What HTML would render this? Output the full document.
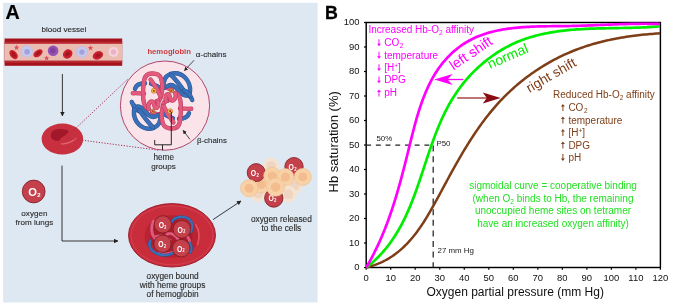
<!DOCTYPE html>
<html><head><meta charset="utf-8"><style>
html,body{margin:0;padding:0;background:#fff;width:676px;height:306px;overflow:hidden}
svg{display:block;will-change:transform}
text{font-family:"Liberation Sans", sans-serif}
.lbl{fill:#2a2a2a;stroke:#2a2a2a;stroke-width:0.12px}
</style></head><body>
<svg width="676" height="306" viewBox="0 0 676 306">
<defs>
<marker id="ah" viewBox="0 0 10 10" refX="9" refY="5" markerWidth="5" markerHeight="5" orient="auto"><path d="M0,0 L10,5 L0,10 z" fill="#222"/></marker>
</defs>
<!-- ===== Panel A ===== -->
<rect x="3.1" y="2.85" width="314.5" height="299.6" fill="#dee8f2"/>
<text x="5.4" y="19.3" font-size="19.7" font-weight="bold" fill="#000" stroke="#000" stroke-width="0.2">A</text>
<text x="41.4" y="32" font-size="8.1" class="lbl">blood vessel</text>

<!-- blood vessel -->
<rect x="4.6" y="38.5" width="117.6" height="27.3" fill="#a6121b"/>
<rect x="4.6" y="41.6" width="117.6" height="2.3" fill="#bb2a31"/>
<rect x="4.6" y="60.5" width="117.6" height="2.2" fill="#bb2a31"/>
<rect x="4.6" y="43.8" width="117.6" height="16.8" fill="#ebbcb1"/>
<!-- cells -->
<g>
<ellipse cx="13.6" cy="54.6" rx="3.4" ry="5.2" transform="rotate(-40 13.6 54.6)" fill="#c8202e"/>
<ellipse cx="13.6" cy="54.6" rx="1.6" ry="3" transform="rotate(-40 13.6 54.6)" fill="#a8141f"/>
<path d="M16.5,44.8 l0.8,1.8 1.9,0.2 -1.4,1.2 0.5,1.9 -1.8,-1 -1.6,1 0.4,-1.9 -1.4,-1.3 1.9,-0.1z" fill="#e0505a"/>
<circle cx="26.9" cy="51.5" r="5.8" fill="#c6c8f0" stroke="#b4b6e4" stroke-width="0.5"/>
<circle cx="27.1" cy="51.7" r="2.8" fill="#a0a2da"/>
<ellipse cx="38" cy="53.3" rx="3.2" ry="5.2" transform="rotate(55 38 53.3)" fill="#c8202e"/>
<ellipse cx="38" cy="53.3" rx="1.5" ry="3" transform="rotate(55 38 53.3)" fill="#a8141f"/>
<path d="M46.6,55.4 l0.8,1.8 1.9,0.2 -1.4,1.2 0.5,1.9 -1.8,-1 -1.6,1 0.4,-1.9 -1.4,-1.3 1.9,-0.1z" fill="#e0505a"/>
<circle cx="53.1" cy="50.7" r="5.3" fill="#9452b4"/>
<circle cx="52.8" cy="50.4" r="2.8" fill="#84409e"/>
<ellipse cx="67.7" cy="54" rx="4.4" ry="5" transform="rotate(50 67.7 54)" fill="#c8202e"/>
<ellipse cx="67.7" cy="54" rx="2" ry="2.8" transform="rotate(50 67.7 54)" fill="#a8141f"/>
<circle cx="81.8" cy="51.9" r="5.6" fill="#c6c8f0" stroke="#b4b6e4" stroke-width="0.5"/>
<circle cx="82" cy="52.1" r="2.7" fill="#a0a2da"/>
<path d="M90.5,45.2 l0.8,1.8 1.9,0.2 -1.4,1.2 0.5,1.9 -1.8,-1 -1.6,1 0.4,-1.9 -1.4,-1.3 1.9,-0.1z" fill="#e0505a"/>
<ellipse cx="97.9" cy="55.4" rx="4" ry="5.4" transform="rotate(65 97.9 55.4)" fill="#c8202e"/>
<ellipse cx="97.9" cy="55.4" rx="1.8" ry="3" transform="rotate(65 97.9 55.4)" fill="#a8141f"/>
<circle cx="113.5" cy="51.9" r="5" fill="#f6d0dc"/>
<circle cx="113.5" cy="51.9" r="2.6" fill="#eab0c4"/>
</g>

<!-- arrow down from vessel -->
<line x1="62.4" y1="74" x2="62.4" y2="116" stroke="#222" stroke-width="0.9" marker-end="url(#ah)"/>

<!-- dotted zoom lines -->


<!-- small RBC -->
<ellipse cx="62.4" cy="139" rx="20.8" ry="15.5" fill="#c9303f"/>
<path d="M51,134 C52,129 59,128 67,130 C70,131 68,134 64,136 C60,138 60,141 58,141 C53,141 50,138 51,134z" fill="#a0182a"/>
<path d="M61.5,143.8 C66,144.2 72,142 76,138.6" stroke="#e46674" stroke-width="1.3" fill="none" stroke-linecap="round"/>
<line x1="65.5" y1="138" x2="128.5" y2="78.5" stroke="#a43050" stroke-width="1" stroke-dasharray="1.2 1.6"/>
<line x1="65.5" y1="138" x2="158.5" y2="150.2" stroke="#a43050" stroke-width="1" stroke-dasharray="1.2 1.6"/>

<!-- zoom circle -->
<circle cx="165" cy="105.6" r="44.6" fill="#fae4ea" stroke="#a8345a" stroke-width="0.9"/>

<!-- protein placeholder -->
<g fill="none" stroke-linecap="round" stroke-linejoin="round"><g><path d="M132.8,93.2 C136,93 140,93.2 144,93.6" stroke="#b8365a" stroke-width="4.4"/><path d="M132.8,93.2 C136,93 140,93.2 144,93.6" stroke="#e25a7c" stroke-width="3.5"/><path d="M162.5,87 C166,87.5 169.5,88.5 172,89.5" stroke="#b8365a" stroke-width="4.4"/><path d="M162.5,87 C166,87.5 169.5,88.5 172,89.5" stroke="#e25a7c" stroke-width="3.5"/></g><g transform="rotate(180 162 101)"><path d="M132.8,93.2 C136,93 140,93.2 144,93.6" stroke="#b8365a" stroke-width="4.4"/><path d="M132.8,93.2 C136,93 140,93.2 144,93.6" stroke="#e25a7c" stroke-width="3.5"/><path d="M162.5,87 C166,87.5 169.5,88.5 172,89.5" stroke="#b8365a" stroke-width="4.4"/><path d="M162.5,87 C166,87.5 169.5,88.5 172,89.5" stroke="#e25a7c" stroke-width="3.5"/></g><g><path d="M135,88.8 C136,85.2 139.5,83.2 145,83.2" stroke="#24508e" stroke-width="4.4"/><path d="M135,88.8 C136,85.2 139.5,83.2 145,83.2" stroke="#3a70b8" stroke-width="3.5"/><path d="M151,83.6 C154,84.5 158,86.5 161.5,89" stroke="#24508e" stroke-width="4.4"/><path d="M151,83.6 C154,84.5 158,86.5 161.5,89" stroke="#3a70b8" stroke-width="3.5"/></g><g transform="rotate(180 162 101)"><path d="M135,88.8 C136,85.2 139.5,83.2 145,83.2" stroke="#24508e" stroke-width="4.4"/><path d="M135,88.8 C136,85.2 139.5,83.2 145,83.2" stroke="#3a70b8" stroke-width="3.5"/><path d="M151,83.6 C154,84.5 158,86.5 161.5,89" stroke="#24508e" stroke-width="4.4"/><path d="M151,83.6 C154,84.5 158,86.5 161.5,89" stroke="#3a70b8" stroke-width="3.5"/></g><g><path d="M163.5,88 C163,81 165.5,76 170,74.2 C175,72.6 181,73.6 185,77.5 C188.5,81 190.5,87 190,91.8 C189.5,95.3 186.5,96.3 183.5,94.8 C180,93 177.5,89 175,86.6 C172.5,84.6 169.5,84.6 167,86.5" stroke="#24508e" stroke-width="4.4"/><path d="M163.5,88 C163,81 165.5,76 170,74.2 C175,72.6 181,73.6 185,77.5 C188.5,81 190.5,87 190,91.8 C189.5,95.3 186.5,96.3 183.5,94.8 C180,93 177.5,89 175,86.6 C172.5,84.6 169.5,84.6 167,86.5" stroke="#3a70b8" stroke-width="3.5"/><path d="M171,74.8 C175.5,79 180,85 184.5,91.5" stroke="#24508e" stroke-width="4.4"/><path d="M171,74.8 C175.5,79 180,85 184.5,91.5" stroke="#3a70b8" stroke-width="3.5"/><path d="M189.6,96.2 C190.8,97.2 191.8,98.4 192.2,100" stroke="#24508e" stroke-width="4.4"/><path d="M189.6,96.2 C190.8,97.2 191.8,98.4 192.2,100" stroke="#3a70b8" stroke-width="3.5"/><path d="M133.6,106 C135,108.8 137,110.6 139.8,111.4" stroke="#24508e" stroke-width="4.4"/><path d="M133.6,106 C135,108.8 137,110.6 139.8,111.4" stroke="#3a70b8" stroke-width="3.5"/></g><g transform="rotate(180 162 101)"><path d="M163.5,88 C163,81 165.5,76 170,74.2 C175,72.6 181,73.6 185,77.5 C188.5,81 190.5,87 190,91.8 C189.5,95.3 186.5,96.3 183.5,94.8 C180,93 177.5,89 175,86.6 C172.5,84.6 169.5,84.6 167,86.5" stroke="#24508e" stroke-width="4.4"/><path d="M163.5,88 C163,81 165.5,76 170,74.2 C175,72.6 181,73.6 185,77.5 C188.5,81 190.5,87 190,91.8 C189.5,95.3 186.5,96.3 183.5,94.8 C180,93 177.5,89 175,86.6 C172.5,84.6 169.5,84.6 167,86.5" stroke="#3a70b8" stroke-width="3.5"/><path d="M171,74.8 C175.5,79 180,85 184.5,91.5" stroke="#24508e" stroke-width="4.4"/><path d="M171,74.8 C175.5,79 180,85 184.5,91.5" stroke="#3a70b8" stroke-width="3.5"/><path d="M189.6,96.2 C190.8,97.2 191.8,98.4 192.2,100" stroke="#24508e" stroke-width="4.4"/><path d="M189.6,96.2 C190.8,97.2 191.8,98.4 192.2,100" stroke="#3a70b8" stroke-width="3.5"/><path d="M133.6,106 C135,108.8 137,110.6 139.8,111.4" stroke="#24508e" stroke-width="4.4"/><path d="M133.6,106 C135,108.8 137,110.6 139.8,111.4" stroke="#3a70b8" stroke-width="3.5"/></g><g><path d="M148.5,109 C145.5,108 143.6,104 143.2,98 C142.8,92 143.2,85 144.2,80 C145,75.5 148,73.6 152,73.5 C156,73.4 159.6,74.6 161,78.2 C162.4,82 162.5,90 161.2,95.8 C160.4,99.5 158.5,101.5 156.5,101.2" stroke="#b8365a" stroke-width="4.4"/><path d="M148.5,109 C145.5,108 143.6,104 143.2,98 C142.8,92 143.2,85 144.2,80 C145,75.5 148,73.6 152,73.5 C156,73.4 159.6,74.6 161,78.2 C162.4,82 162.5,90 161.2,95.8 C160.4,99.5 158.5,101.5 156.5,101.2" stroke="#e25a7c" stroke-width="3.5"/><path d="M150.6,79.6 C154,84 157.8,90 160.4,96" stroke="#b8365a" stroke-width="4.4"/><path d="M150.6,79.6 C154,84 157.8,90 160.4,96" stroke="#e25a7c" stroke-width="3.5"/><path d="M148.5,109 C147.6,104.5 149.8,100.8 152.3,101.6 C154.8,102.5 153.4,106.4 155.4,107.6 C157.8,108.8 159.2,104.6 157.8,100.8" stroke="#b8365a" stroke-width="4.4"/><path d="M148.5,109 C147.6,104.5 149.8,100.8 152.3,101.6 C154.8,102.5 153.4,106.4 155.4,107.6 C157.8,108.8 159.2,104.6 157.8,100.8" stroke="#e25a7c" stroke-width="3.5"/></g><g transform="rotate(180 162 101)"><path d="M148.5,109 C145.5,108 143.6,104 143.2,98 C142.8,92 143.2,85 144.2,80 C145,75.5 148,73.6 152,73.5 C156,73.4 159.6,74.6 161,78.2 C162.4,82 162.5,90 161.2,95.8 C160.4,99.5 158.5,101.5 156.5,101.2" stroke="#b8365a" stroke-width="4.4"/><path d="M148.5,109 C145.5,108 143.6,104 143.2,98 C142.8,92 143.2,85 144.2,80 C145,75.5 148,73.6 152,73.5 C156,73.4 159.6,74.6 161,78.2 C162.4,82 162.5,90 161.2,95.8 C160.4,99.5 158.5,101.5 156.5,101.2" stroke="#e25a7c" stroke-width="3.5"/><path d="M150.6,79.6 C154,84 157.8,90 160.4,96" stroke="#b8365a" stroke-width="4.4"/><path d="M150.6,79.6 C154,84 157.8,90 160.4,96" stroke="#e25a7c" stroke-width="3.5"/><path d="M148.5,109 C147.6,104.5 149.8,100.8 152.3,101.6 C154.8,102.5 153.4,106.4 155.4,107.6 C157.8,108.8 159.2,104.6 157.8,100.8" stroke="#b8365a" stroke-width="4.4"/><path d="M148.5,109 C147.6,104.5 149.8,100.8 152.3,101.6 C154.8,102.5 153.4,106.4 155.4,107.6 C157.8,108.8 159.2,104.6 157.8,100.8" stroke="#e25a7c" stroke-width="3.5"/></g></g><g><circle cx="153.8" cy="90.8" r="2.5" fill="#f6d24a" stroke="#9a4a20" stroke-width="0.5"/><circle cx="153.8" cy="90.8" r="1.12" fill="#c8282a"/><circle cx="171.2" cy="90.9" r="2.1" fill="#e0a040" stroke="#8a3a20" stroke-width="0.5"/><circle cx="171.2" cy="90.9" r="0.95" fill="#c02828"/></g><g transform="rotate(180 162 101)"><circle cx="153.8" cy="90.8" r="2.5" fill="#f6d24a" stroke="#9a4a20" stroke-width="0.5"/><circle cx="153.8" cy="90.8" r="1.12" fill="#c8282a"/><circle cx="171.2" cy="90.9" r="2.1" fill="#e0a040" stroke="#8a3a20" stroke-width="0.5"/><circle cx="171.2" cy="90.9" r="0.95" fill="#c02828"/></g>

<text x="147.4" y="53.6" font-size="7.7" font-weight="bold" fill="#cf3a3c">hemoglobin</text>
<text x="195.8" y="57" font-size="8.1" class="lbl">α-chains</text>
<line x1="194" y1="60.3" x2="184.4" y2="70.6" stroke="#222" stroke-width="0.8" marker-end="url(#ah)"/>
<text x="196.9" y="143.4" font-size="7.9" class="lbl">β-chains</text>
<line x1="190" y1="139.5" x2="183.1" y2="130.3" stroke="#222" stroke-width="0.8" marker-end="url(#ah)"/>

<!-- heme bracket -->
<path d="M154.7,140 V144.8 H171.3 M162.5,144.8 V150.3 M171.3,112 V144.8" stroke="#1a1a1a" stroke-width="0.95" fill="none"/>
<text x="163.7" y="159.6" font-size="8.2" class="lbl" text-anchor="middle">heme</text>
<text x="163.5" y="168.6" font-size="8.1" class="lbl" text-anchor="middle">groups</text>

<!-- O2 from lungs -->
<circle cx="33.7" cy="191.5" r="11.4" fill="#c4404a" stroke="#7a1a22" stroke-width="0.8"/><text transform="translate(28.20,196.10) scale(1.0,1)" font-size="11.2" font-weight="bold" fill="#fff">O<tspan font-size="5.94" dy="0.50" dx="0.3">2</tspan></text>
<text x="34.4" y="216" font-size="8.1" class="lbl" text-anchor="middle">oxygen</text>
<text x="34.4" y="225.2" font-size="8.1" class="lbl" text-anchor="middle">from lungs</text>

<!-- path from RBC down and right -->
<path d="M62,165.6 V241 H118" stroke="#222" stroke-width="0.9" fill="none" marker-end="url(#ah)"/>

<!-- big RBC -->
<ellipse cx="172" cy="235.3" rx="43.5" ry="31.7" fill="#c92c3a" stroke="#9a1622" stroke-width="0.9"/><ellipse cx="172" cy="235.3" rx="41" ry="29.5" fill="none" stroke="#d6465a" stroke-width="0.8"/><ellipse cx="171.5" cy="236.5" rx="27" ry="21.5" fill="#ba2331"/><ellipse cx="171.5" cy="237" rx="21" ry="17.5" fill="#ab1b2a"/><path d="M195.8,225 C199.5,230 200,238 197.5,244.5" stroke="#e2505e" stroke-width="1.8" fill="none" stroke-linecap="round"/><g fill="none" stroke-linecap="round" stroke-linejoin="round"><path d="M153.5,221 C150.5,227 151,234 155,238.5" stroke="#b8365a" stroke-width="3.5"/><path d="M153.5,221 C150.5,227 151,234 155,238.5" stroke="#e25a7c" stroke-width="2.6"/><path d="M167,234 C171,232.5 175,235 178,239" stroke="#b8365a" stroke-width="3.5"/><path d="M167,234 C171,232.5 175,235 178,239" stroke="#e25a7c" stroke-width="2.6"/><path d="M187,236 C190.5,240 190.5,246 189,251" stroke="#b8365a" stroke-width="3.3"/><path d="M187,236 C190.5,240 190.5,246 189,251" stroke="#e25a7c" stroke-width="2.4"/><path d="M156,236.5 C161,235 166,236.5 170,240" stroke="#b8365a" stroke-width="3.3"/><path d="M156,236.5 C161,235 166,236.5 170,240" stroke="#e25a7c" stroke-width="2.4"/><path d="M159,252.5 C164,254.5 169,254.5 173,252" stroke="#b8365a" stroke-width="3.3"/><path d="M159,252.5 C164,254.5 169,254.5 173,252" stroke="#e25a7c" stroke-width="2.4"/><path d="M171.5,222 C174.5,216.5 184,215 189.5,219.5 C192.5,222.5 193,227.5 191,232" stroke="#24508e" stroke-width="2.9"/><path d="M171.5,222 C174.5,216.5 184,215 189.5,219.5 C192.5,222.5 193,227.5 191,232" stroke="#3a70b8" stroke-width="2.0"/><path d="M150.5,240.5 C147.5,245.5 151,251 156.5,253.5 C161.5,255.5 167.5,256 172,253.5" stroke="#24508e" stroke-width="2.9"/><path d="M150.5,240.5 C147.5,245.5 151,251 156.5,253.5 C161.5,255.5 167.5,256 172,253.5" stroke="#3a70b8" stroke-width="2.0"/><path d="M189.5,243 C192,246 192,250 190,252.5" stroke="#24508e" stroke-width="2.9"/><path d="M189.5,243 C192,246 192,250 190,252.5" stroke="#3a70b8" stroke-width="2.0"/></g><circle cx="162.9" cy="224.4" r="8.7" fill="#c4404a" stroke="#7a1a22" stroke-width="0.8"/><text transform="translate(158.70,227.90) scale(0.8,1)" font-size="8.6" font-weight="bold" fill="#fff">O<tspan font-size="4.73" dy="0.60" dx="0.3">2</tspan></text><circle cx="181.8" cy="229.3" r="8.8" fill="#c4404a" stroke="#7a1a22" stroke-width="0.8"/><text transform="translate(177.60,232.80) scale(0.8,1)" font-size="8.6" font-weight="bold" fill="#fff">O<tspan font-size="4.73" dy="0.60" dx="0.3">2</tspan></text><circle cx="162.5" cy="243.8" r="8.7" fill="#c4404a" stroke="#7a1a22" stroke-width="0.8"/><text transform="translate(158.30,247.30) scale(0.8,1)" font-size="8.6" font-weight="bold" fill="#fff">O<tspan font-size="4.73" dy="0.60" dx="0.3">2</tspan></text><circle cx="181.2" cy="248.2" r="8.8" fill="#c4404a" stroke="#7a1a22" stroke-width="0.8"/><text transform="translate(177.00,251.70) scale(0.8,1)" font-size="8.6" font-weight="bold" fill="#fff">O<tspan font-size="4.73" dy="0.60" dx="0.3">2</tspan></text>
<circle cx="271" cy="166" r="8.2" fill="#f4e2d2"/><circle cx="271" cy="166" r="4.76" fill="#efd4c2"/><circle cx="294.5" cy="186" r="8.2" fill="#f4e2d2"/><circle cx="294.5" cy="186" r="4.76" fill="#efd4c2"/><circle cx="288.5" cy="194.3" r="8.2" fill="#f4e2d2"/><circle cx="288.5" cy="194.3" r="4.76" fill="#efd4c2"/><circle cx="258.5" cy="194" r="8.2" fill="#f4e2d2"/><circle cx="258.5" cy="194" r="4.76" fill="#efd4c2"/><circle cx="294" cy="166.7" r="9.2" fill="#c4404a" stroke="#7a1a22" stroke-width="0.8"/><text transform="translate(288.60,169.60) scale(0.82,1)" font-size="8.4" font-weight="bold" fill="#fff">O<tspan font-size="5.21" dy="1.20" dx="0.3">2</tspan></text><circle cx="273.8" cy="198" r="9.2" fill="#c4404a" stroke="#7a1a22" stroke-width="0.8"/><text transform="translate(268.40,200.90) scale(0.82,1)" font-size="8.4" font-weight="bold" fill="#fff">O<tspan font-size="5.21" dy="1.20" dx="0.3">2</tspan></text><circle cx="261.5" cy="184.5" r="8.5" fill="#f8d2a6" stroke="#e8b88a" stroke-width="0.5"/><circle cx="261.5" cy="184.5" r="4.42" fill="#f3bd90"/><circle cx="256.2" cy="172.6" r="9.0" fill="#c4404a" stroke="#7a1a22" stroke-width="0.8"/><text transform="translate(250.80,175.50) scale(0.82,1)" font-size="8.4" font-weight="bold" fill="#fff">O<tspan font-size="5.21" dy="1.20" dx="0.3">2</tspan></text><circle cx="272.3" cy="176" r="8.7" fill="#f8d2a6" stroke="#e8b88a" stroke-width="0.5"/><circle cx="272.3" cy="176" r="4.52" fill="#f3bd90"/><circle cx="285.4" cy="177" r="8.6" fill="#f8d2a6" stroke="#e8b88a" stroke-width="0.5"/><circle cx="285.4" cy="177" r="4.47" fill="#f3bd90"/><circle cx="302.8" cy="176.9" r="8.6" fill="#f8d2a6" stroke="#e8b88a" stroke-width="0.5"/><circle cx="302.8" cy="176.9" r="4.47" fill="#f3bd90"/><circle cx="249.1" cy="188.2" r="8.7" fill="#f8d2a6" stroke="#e8b88a" stroke-width="0.5"/><circle cx="249.1" cy="188.2" r="4.52" fill="#f3bd90"/><circle cx="275.6" cy="187.2" r="9.1" fill="#f8d2a6" stroke="#e8b88a" stroke-width="0.5"/><circle cx="275.6" cy="187.2" r="4.73" fill="#f3bd90"/>

<!-- arrow to cells -->
<line x1="213" y1="219.6" x2="241" y2="201" stroke="#222" stroke-width="0.9" marker-end="url(#ah)"/>

<text x="172.6" y="278.5" font-size="8.3" class="lbl" text-anchor="middle">oxygen bound</text>
<text x="172.6" y="287.8" font-size="8.3" class="lbl" text-anchor="middle">with heme groups</text>
<text x="172.6" y="297.1" font-size="8.3" class="lbl" text-anchor="middle">of hemoglobin</text>

<text x="281.4" y="222" font-size="8.3" class="lbl" text-anchor="middle">oxygen released</text>
<text x="281.4" y="231" font-size="8.3" class="lbl" text-anchor="middle">to the cells</text>

<!-- ===== Panel B ===== -->
<text x="325" y="18.6" font-size="17.8" font-weight="bold" fill="#000" stroke="#000" stroke-width="0.3">B</text>
<g stroke="#000" stroke-width="1.2">
<line x1="366.20" y1="267.5" x2="366.20" y2="269.7" />
<line x1="390.72" y1="267.5" x2="390.72" y2="269.7" />
<line x1="415.23" y1="267.5" x2="415.23" y2="269.7" />
<line x1="439.75" y1="267.5" x2="439.75" y2="269.7" />
<line x1="464.27" y1="267.5" x2="464.27" y2="269.7" />
<line x1="488.78" y1="267.5" x2="488.78" y2="269.7" />
<line x1="513.30" y1="267.5" x2="513.30" y2="269.7" />
<line x1="537.82" y1="267.5" x2="537.82" y2="269.7" />
<line x1="562.33" y1="267.5" x2="562.33" y2="269.7" />
<line x1="586.85" y1="267.5" x2="586.85" y2="269.7" />
<line x1="611.37" y1="267.5" x2="611.37" y2="269.7" />
<line x1="635.88" y1="267.5" x2="635.88" y2="269.7" />
<line x1="660.40" y1="267.5" x2="660.40" y2="269.7" />
<line x1="364.0" y1="267.50" x2="366.2" y2="267.50" />
<line x1="364.0" y1="243.00" x2="366.2" y2="243.00" />
<line x1="364.0" y1="218.50" x2="366.2" y2="218.50" />
<line x1="364.0" y1="194.00" x2="366.2" y2="194.00" />
<line x1="364.0" y1="169.50" x2="366.2" y2="169.50" />
<line x1="364.0" y1="145.00" x2="366.2" y2="145.00" />
<line x1="364.0" y1="120.50" x2="366.2" y2="120.50" />
<line x1="364.0" y1="96.00" x2="366.2" y2="96.00" />
<line x1="364.0" y1="71.50" x2="366.2" y2="71.50" />
<line x1="364.0" y1="47.00" x2="366.2" y2="47.00" />
<line x1="364.0" y1="22.50" x2="366.2" y2="22.50" />
</g>
<g font-size="9.45" fill="#111">
<text x="366.20" y="281.2" text-anchor="middle">0</text>
<text x="390.72" y="281.2" text-anchor="middle">10</text>
<text x="415.23" y="281.2" text-anchor="middle">20</text>
<text x="439.75" y="281.2" text-anchor="middle">30</text>
<text x="464.27" y="281.2" text-anchor="middle">40</text>
<text x="488.78" y="281.2" text-anchor="middle">50</text>
<text x="513.30" y="281.2" text-anchor="middle">60</text>
<text x="537.82" y="281.2" text-anchor="middle">70</text>
<text x="562.33" y="281.2" text-anchor="middle">80</text>
<text x="586.85" y="281.2" text-anchor="middle">90</text>
<text x="611.37" y="281.2" text-anchor="middle">100</text>
<text x="635.88" y="281.2" text-anchor="middle">110</text>
<text x="660.40" y="281.2" text-anchor="middle">120</text>
<text x="359.6" y="270.40" text-anchor="end">0</text>
<text x="359.6" y="245.90" text-anchor="end">10</text>
<text x="359.6" y="221.40" text-anchor="end">20</text>
<text x="359.6" y="196.90" text-anchor="end">30</text>
<text x="359.6" y="172.40" text-anchor="end">40</text>
<text x="359.6" y="147.90" text-anchor="end">50</text>
<text x="359.6" y="123.40" text-anchor="end">60</text>
<text x="359.6" y="98.90" text-anchor="end">70</text>
<text x="359.6" y="74.40" text-anchor="end">80</text>
<text x="359.6" y="49.90" text-anchor="end">90</text>
<text x="359.6" y="25.40" text-anchor="end">100</text>
</g>
<rect x="366.2" y="22.5" width="294.20" height="245.0" fill="none" stroke="#000" stroke-width="1.45"/>

<!-- dashed -->
<path d="M366.2,145.1 H433.8" stroke="#222" stroke-width="1.2" fill="none" stroke-dasharray="4.9 4.8"/>
<path d="M433.2,145.6 V267.5" stroke="#222" stroke-width="1.25" fill="none" stroke-dasharray="6 4.6"/>
<text x="376.4" y="141.3" font-size="7.9" fill="#222">50%</text>
<text x="436.4" y="146" font-size="7.9" fill="#222">P50</text>
<text x="437.5" y="253" font-size="7.9" fill="#222">27 mm Hg</text>

<!-- curves -->
<path d="M366.20,267.50 L368.30,266.98 L370.36,266.41 L372.38,265.79 L374.37,265.13 L376.31,264.42 L378.22,263.67 L380.09,262.88 L381.93,262.05 L383.73,261.17 L385.49,260.26 L387.22,259.30 L388.92,258.31 L390.58,257.28 L392.21,256.22 L393.81,255.12 L395.38,253.98 L396.92,252.82 L398.44,251.62 L399.92,250.38 L401.37,249.12 L402.80,247.83 L404.20,246.51 L405.58,245.16 L406.93,243.79 L408.25,242.39 L409.56,240.96 L410.84,239.51 L412.10,238.04 L413.33,236.54 L414.55,235.02 L415.75,233.49 L416.92,231.93 L418.08,230.35 L419.23,228.75 L420.35,227.14 L421.46,225.51 L422.56,223.86 L423.64,222.20 L424.71,220.53 L425.76,218.84 L426.81,217.14 L427.84,215.43 L428.86,213.70 L429.88,211.97 L430.88,210.23 L431.88,208.48 L432.86,206.72 L433.85,204.96 L434.82,203.19 L435.79,201.42 L436.76,199.64 L437.73,197.86 L438.69,196.07 L439.65,194.29 L440.60,192.50 L441.56,190.72 L442.52,188.93 L443.48,187.15 L444.44,185.36 L445.40,183.58 L446.36,181.80 L447.32,180.02 L448.29,178.24 L449.25,176.47 L450.22,174.70 L451.19,172.93 L452.17,171.16 L453.15,169.39 L454.13,167.63 L455.11,165.87 L456.10,164.12 L457.09,162.37 L458.09,160.62 L459.09,158.88 L460.09,157.14 L461.10,155.40 L462.12,153.68 L463.14,151.95 L464.17,150.23 L465.21,148.52 L466.25,146.81 L467.30,145.11 L468.35,143.41 L469.41,141.72 L470.49,140.04 L471.56,138.37 L472.65,136.70 L473.75,135.03 L474.85,133.38 L475.96,131.73 L477.08,130.09 L478.22,128.46 L479.36,126.84 L480.51,125.23 L481.67,123.62 L482.84,122.02 L484.03,120.44 L485.22,118.86 L486.43,117.29 L487.64,115.73 L488.87,114.18 L490.12,112.64 L491.37,111.11 L492.64,109.59 L493.92,108.09 L495.21,106.59 L496.52,105.11 L497.84,103.63 L499.17,102.17 L500.52,100.72 L501.89,99.28 L503.27,97.86 L504.66,96.44 L506.07,95.04 L507.49,93.66 L508.93,92.28 L510.38,90.92 L511.85,89.57 L513.33,88.24 L514.82,86.91 L516.33,85.61 L517.85,84.31 L519.38,83.03 L520.93,81.77 L522.49,80.52 L524.06,79.28 L525.64,78.06 L527.24,76.85 L528.84,75.66 L530.46,74.49 L532.09,73.32 L533.73,72.18 L535.39,71.05 L537.05,69.94 L538.73,68.84 L540.41,67.76 L542.11,66.69 L543.81,65.64 L545.53,64.61 L547.26,63.59 L548.99,62.60 L550.74,61.62 L552.49,60.65 L554.25,59.71 L556.03,58.78 L557.81,57.87 L559.60,56.97 L561.40,56.10 L563.20,55.24 L565.02,54.40 L566.84,53.58 L568.67,52.78 L570.51,52.00 L572.35,51.24 L574.20,50.50 L576.06,49.77 L577.93,49.07 L579.80,48.38 L581.68,47.71 L583.56,47.06 L585.45,46.43 L587.35,45.81 L589.25,45.21 L591.16,44.63 L593.07,44.07 L594.99,43.52 L596.91,42.99 L598.84,42.48 L600.77,41.98 L602.71,41.50 L604.65,41.03 L606.60,40.58 L608.55,40.14 L610.50,39.72 L612.45,39.31 L614.41,38.92 L616.38,38.54 L618.34,38.18 L620.31,37.83 L622.28,37.49 L624.26,37.16 L626.23,36.85 L628.21,36.55 L630.19,36.27 L632.17,35.99 L634.15,35.73 L636.14,35.48 L638.13,35.24 L640.11,35.01 L642.10,34.80 L644.09,34.59 L646.08,34.40 L648.07,34.21 L650.06,34.04 L652.05,33.88 L654.04,33.72 L656.02,33.58 L658.01,33.44 L660.00,33.31" stroke="#7e3e18" stroke-width="2.5" fill="none"/>
<path d="M366.20,267.50 L367.96,266.14 L369.68,264.75 L371.37,263.34 L373.02,261.91 L374.63,260.45 L376.20,258.97 L377.74,257.47 L379.24,255.95 L380.71,254.40 L382.15,252.84 L383.55,251.25 L384.93,249.64 L386.27,248.01 L387.58,246.37 L388.86,244.70 L390.11,243.02 L391.33,241.32 L392.53,239.60 L393.70,237.86 L394.84,236.11 L395.96,234.34 L397.05,232.55 L398.12,230.75 L399.16,228.94 L400.18,227.11 L401.18,225.27 L402.16,223.41 L403.12,221.54 L404.06,219.66 L404.98,217.76 L405.88,215.86 L406.76,213.94 L407.63,212.01 L408.48,210.07 L409.32,208.12 L410.14,206.17 L410.94,204.20 L411.74,202.22 L412.52,200.24 L413.29,198.25 L414.05,196.25 L414.79,194.24 L415.53,192.23 L416.26,190.21 L416.98,188.19 L417.69,186.16 L418.40,184.13 L419.10,182.09 L419.79,180.05 L420.48,178.01 L421.17,175.96 L421.85,173.91 L422.53,171.86 L423.21,169.81 L423.89,167.76 L424.56,165.70 L425.24,163.65 L425.92,161.59 L426.60,159.54 L427.28,157.49 L427.97,155.44 L428.66,153.39 L429.35,151.35 L430.05,149.30 L430.76,147.26 L431.47,145.23 L432.19,143.20 L432.92,141.17 L433.65,139.15 L434.40,137.14 L435.16,135.13 L435.93,133.13 L436.71,131.13 L437.50,129.14 L438.30,127.16 L439.12,125.19 L439.96,123.23 L440.81,121.28 L441.67,119.33 L442.56,117.40 L443.46,115.48 L444.38,113.57 L445.31,111.67 L446.27,109.78 L447.25,107.90 L448.25,106.04 L449.27,104.19 L450.31,102.35 L451.38,100.53 L452.47,98.72 L453.58,96.93 L454.72,95.15 L455.89,93.39 L457.08,91.65 L458.30,89.92 L459.54,88.21 L460.81,86.52 L462.10,84.84 L463.42,83.19 L464.76,81.55 L466.12,79.93 L467.50,78.33 L468.91,76.75 L470.35,75.20 L471.80,73.66 L473.28,72.14 L474.77,70.65 L476.29,69.17 L477.83,67.72 L479.40,66.30 L480.98,64.89 L482.58,63.51 L484.20,62.16 L485.84,60.83 L487.50,59.52 L489.18,58.24 L490.88,56.99 L492.59,55.76 L494.33,54.55 L496.08,53.38 L497.84,52.23 L499.63,51.11 L501.43,50.02 L503.25,48.96 L505.08,47.92 L506.93,46.92 L508.80,45.94 L510.68,45.00 L512.58,44.08 L514.49,43.20 L516.41,42.35 L518.35,41.53 L520.30,40.74 L522.27,39.99 L524.24,39.27 L526.23,38.57 L528.23,37.91 L530.25,37.28 L532.27,36.68 L534.31,36.10 L536.36,35.56 L538.41,35.04 L540.48,34.54 L542.56,34.07 L544.64,33.63 L546.73,33.21 L548.84,32.81 L550.95,32.44 L553.06,32.09 L555.19,31.75 L557.32,31.44 L559.46,31.15 L561.60,30.88 L563.75,30.62 L565.90,30.39 L568.06,30.17 L570.22,29.96 L572.39,29.77 L574.56,29.60 L576.74,29.44 L578.91,29.29 L581.09,29.15 L583.27,29.03 L585.46,28.92 L587.64,28.82 L589.83,28.72 L592.01,28.64 L594.20,28.56 L596.39,28.50 L598.57,28.43 L600.76,28.38 L602.94,28.33 L605.12,28.28 L607.30,28.24 L609.48,28.20 L611.65,28.16 L613.82,28.13 L615.99,28.09 L618.15,28.06 L620.31,28.02 L622.47,27.99 L624.62,27.95 L626.76,27.91 L628.90,27.86 L631.03,27.82 L633.15,27.76 L635.27,27.70 L637.38,27.64 L639.48,27.57 L641.57,27.49 L643.66,27.40 L645.74,27.30 L647.80,27.19 L649.86,27.08 L651.91,26.95 L653.94,26.81 L655.97,26.65 L657.98,26.48 L659.98,26.30" stroke="#00ec00" stroke-width="2.7" fill="none"/>
<path d="M366.20,267.50 L367.36,265.52 L368.49,263.53 L369.61,261.54 L370.70,259.54 L371.78,257.53 L372.83,255.52 L373.87,253.50 L374.89,251.48 L375.89,249.45 L376.87,247.42 L377.83,245.38 L378.77,243.33 L379.70,241.28 L380.61,239.23 L381.50,237.17 L382.38,235.10 L383.24,233.03 L384.09,230.96 L384.92,228.88 L385.74,226.80 L386.55,224.71 L387.34,222.61 L388.11,220.52 L388.88,218.42 L389.63,216.31 L390.36,214.20 L391.09,212.09 L391.81,209.97 L392.51,207.85 L393.20,205.72 L393.89,203.59 L394.56,201.46 L395.22,199.32 L395.87,197.18 L396.52,195.04 L397.15,192.89 L397.78,190.74 L398.40,188.59 L399.01,186.43 L399.62,184.28 L400.22,182.11 L400.81,179.95 L401.40,177.78 L401.98,175.61 L402.55,173.44 L403.13,171.26 L403.69,169.09 L404.25,166.91 L404.81,164.72 L405.37,162.54 L405.92,160.35 L406.47,158.16 L407.02,155.97 L407.56,153.78 L408.11,151.59 L408.65,149.39 L409.19,147.19 L409.74,144.99 L410.28,142.79 L410.82,140.59 L411.37,138.39 L411.92,136.19 L412.47,133.99 L413.03,131.79 L413.60,129.59 L414.17,127.40 L414.75,125.21 L415.35,123.02 L415.95,120.83 L416.57,118.65 L417.20,116.48 L417.85,114.31 L418.51,112.15 L419.19,109.99 L419.88,107.85 L420.60,105.71 L421.33,103.57 L422.09,101.45 L422.87,99.34 L423.67,97.23 L424.50,95.14 L425.35,93.06 L426.23,90.99 L427.14,88.93 L428.07,86.89 L429.04,84.86 L430.04,82.85 L431.07,80.85 L432.13,78.88 L433.23,76.92 L434.36,74.99 L435.53,73.08 L436.73,71.20 L437.98,69.34 L439.26,67.52 L440.58,65.73 L441.94,63.96 L443.34,62.23 L444.78,60.54 L446.25,58.88 L447.76,57.25 L449.30,55.67 L450.88,54.12 L452.50,52.61 L454.15,51.14 L455.83,49.72 L457.55,48.33 L459.29,46.99 L461.08,45.70 L462.89,44.45 L464.73,43.25 L466.61,42.10 L468.51,41.00 L470.44,39.95 L472.41,38.95 L474.40,38.00 L476.41,37.10 L478.45,36.25 L480.51,35.44 L482.60,34.68 L484.70,33.97 L486.83,33.29 L488.97,32.66 L491.12,32.07 L493.29,31.51 L495.47,31.00 L497.66,30.52 L499.87,30.07 L502.08,29.65 L504.30,29.27 L506.53,28.92 L508.77,28.60 L511.01,28.30 L513.26,28.03 L515.52,27.79 L517.79,27.57 L520.06,27.37 L522.33,27.19 L524.61,27.04 L526.89,26.90 L529.18,26.78 L531.47,26.67 L533.76,26.58 L536.06,26.50 L538.35,26.44 L540.65,26.38 L542.95,26.33 L545.25,26.29 L547.54,26.26 L549.84,26.23 L552.13,26.21 L554.42,26.19 L556.71,26.17 L559.00,26.15 L561.28,26.12 L563.56,26.10 L565.83,26.07 L568.10,26.04 L570.36,25.99 L572.62,25.95 L574.87,25.89 L577.12,25.83 L579.36,25.77 L581.60,25.70 L583.83,25.62 L586.06,25.55 L588.29,25.46 L590.52,25.38 L592.74,25.29 L594.96,25.20 L597.18,25.12 L599.40,25.02 L601.61,24.93 L603.83,24.84 L606.04,24.75 L608.26,24.66 L610.48,24.58 L612.69,24.49 L614.91,24.41 L617.13,24.33 L619.35,24.25 L621.57,24.18 L623.80,24.11 L626.02,24.04 L628.26,23.98 L630.49,23.93 L632.73,23.89 L634.97,23.85 L637.22,23.81 L639.47,23.79 L641.72,23.77 L643.99,23.77 L646.25,23.77 L648.53,23.78 L650.81,23.80 L653.09,23.83 L655.39,23.88 L657.69,23.93 L660.00,24.00" stroke="#ff00ff" stroke-width="2.7" fill="none"/>

<!-- magenta text -->
<g font-size="10" fill="#ff00ff">
<text x="368.4" y="33.4">Increased Hb-O<tspan font-size="6.5" dy="2">2</tspan><tspan dy="-2"> affinity</tspan></text>
<text x="384.2" y="46.3">CO<tspan font-size="6.5" dy="2" dx="0.6">2</tspan></text>
<text x="384.2" y="58.7">temperature</text>
<text x="384.2" y="71.1">[H<tspan font-size="6.5" dy="-3.5">+</tspan><tspan dy="3.5">]</tspan></text>
<text x="384.2" y="83.3">DPG</text>
<text x="384.2" y="96.4">pH</text>
<path d="M378.52,39.30 V43.70 H377.05 L379.00,46.20 L380.95,43.70 H379.48 V39.30 Z"/><path d="M378.52,51.80 V56.20 H377.05 L379.00,58.70 L380.95,56.20 H379.48 V51.80 Z"/><path d="M378.52,64.20 V68.60 H377.05 L379.00,71.10 L380.95,68.60 H379.48 V64.20 Z"/><path d="M378.52,76.40 V80.80 H377.05 L379.00,83.30 L380.95,80.80 H379.48 V76.40 Z"/><path d="M378.52,96.40 V92.00 H377.05 L379.00,89.50 L380.95,92.00 H379.48 V96.40 Z"/>
</g>
<text x="0" y="0" font-size="14" fill="#ff00ff" transform="translate(453.5,70.5) rotate(-34)">left shift</text>
<text x="0" y="0" font-size="14" fill="#00ec00" transform="translate(490,69) rotate(-23.5)">normal</text>
<text x="0" y="0" font-size="13.6" fill="#7e3e18" transform="translate(529.4,92.9) rotate(-30)">right shift</text>

<!-- arrows in plot -->
<line x1="463.3" y1="79.5" x2="440" y2="79.5" stroke="#ff00ff" stroke-width="1.3"/>
<path d="M434.2,79.5 L452.6,74 L447.6,79.5 L452.6,85 z" fill="#ff00ff"/>
<line x1="457.2" y1="98" x2="488" y2="98" stroke="#a23a3c" stroke-width="1.4"/>
<path d="M500.7,98 L482.8,92.6 L486.8,98 L482.8,103.4 z" fill="#880c12"/>

<!-- brown text -->
<g font-size="10" fill="#7e3e18">
<text x="553" y="97.8">Reduced Hb-O<tspan font-size="6.5" dy="2">2</tspan><tspan dy="-2"> affinity</tspan></text>
<text x="568.4" y="111">CO<tspan font-size="6.5" dy="2" dx="0.6">2</tspan></text>
<text x="568.4" y="123.6">temperature</text>
<text x="568.4" y="136">[H<tspan font-size="6.5" dy="-3.5">+</tspan><tspan dy="3.5">]</tspan></text>
<text x="568.4" y="148.6">DPG</text>
<text x="568.4" y="160.9">pH</text>
<path d="M562.42,111.00 V106.60 H560.95 L562.90,104.10 L564.85,106.60 H563.38 V111.00 Z"/><path d="M562.42,123.50 V119.10 H560.95 L562.90,116.60 L564.85,119.10 H563.38 V123.50 Z"/><path d="M562.42,136.00 V131.60 H560.95 L562.90,129.10 L564.85,131.60 H563.38 V136.00 Z"/><path d="M562.42,148.50 V144.10 H560.95 L562.90,141.60 L564.85,144.10 H563.38 V148.50 Z"/><path d="M562.42,154.00 V158.40 H560.95 L562.90,160.90 L564.85,158.40 H563.38 V154.00 Z"/>
</g>

<!-- green text -->
<g font-size="10" fill="#22e022" text-anchor="middle">
<text x="553" y="189.2">sigmoidal curve = cooperative binding</text>
<text x="553" y="201.5">(when O<tspan font-size="6.5" dy="2">2</tspan><tspan dy="-2"> binds to Hb, the remaining</tspan></text>
<text x="553" y="214.3">unoccupied heme sites on tetramer</text>
<text x="553" y="226.6">have an increased oxygen affinity)</text>
</g>

<text x="515.2" y="296.2" font-size="12" fill="#111" text-anchor="middle">Oxygen partial pressure (mm Hg)</text>
<text x="0" y="0" font-size="13" fill="#111" text-anchor="middle" transform="translate(338.2,141.8) rotate(-90)">Hb saturation (%)</text>
</svg>
</body></html>
